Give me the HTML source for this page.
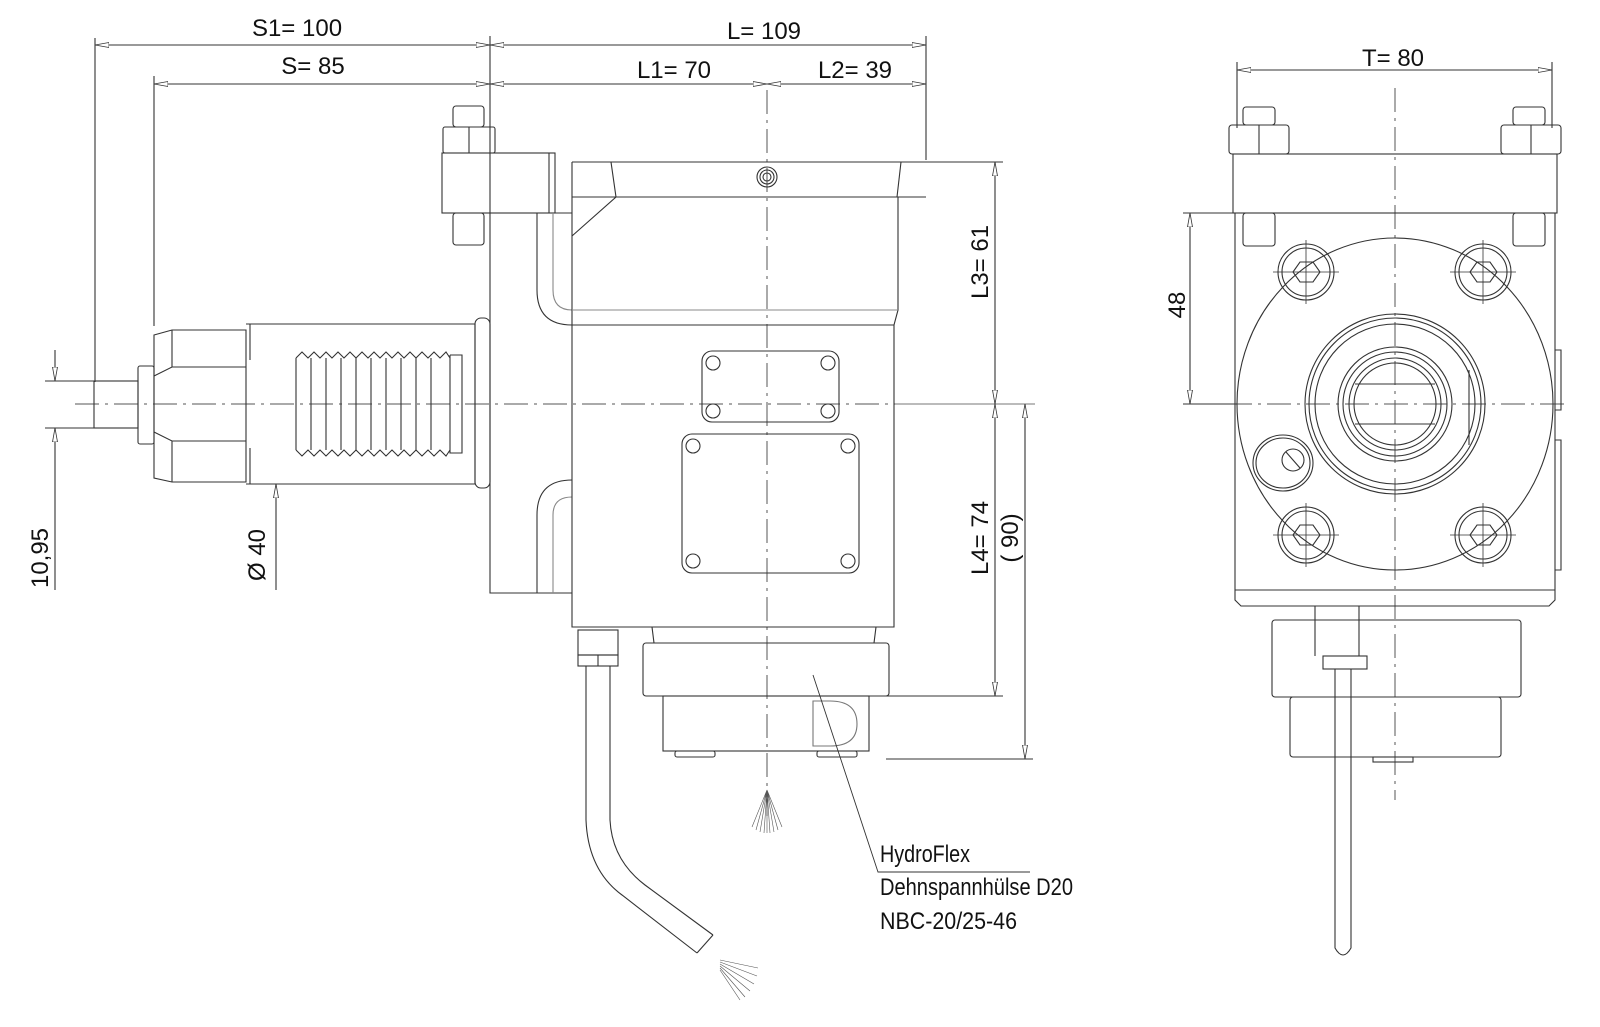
<!DOCTYPE html>
<html><head><meta charset="utf-8"><style>
html,body{margin:0;padding:0;background:#fff;}
svg{display:block;}
text{font-family:"Liberation Sans",sans-serif;font-size:24px;fill:#111;}
</style></head><body>
<svg width="1600" height="1027" viewBox="0 0 1600 1027" xmlns="http://www.w3.org/2000/svg">
<defs>
<marker id="a" viewBox="0 0 14 6" refX="14" refY="3" markerWidth="14" markerHeight="6" orient="auto-start-reverse" markerUnits="userSpaceOnUse"><path d="M0,0.5 L14,3 L0,5.5 Z" fill="#fff" stroke="#333" stroke-width="0.8"/></marker>
</defs>
<g fill="none" stroke="#333" stroke-width="1.1">
<!-- centerlines -->
<g stroke="#555" stroke-width="1" stroke-dasharray="24,6,3,6">
<line x1="75" y1="404" x2="1035" y2="404"/>
<line x1="767" y1="90" x2="767" y2="820"/>
</g>

<!-- dimensions top -->
<line x1="95" y1="45" x2="490" y2="45" marker-start="url(#a)" marker-end="url(#a)"/>
<line x1="490" y1="45" x2="926" y2="45" marker-start="url(#a)" marker-end="url(#a)"/>
<line x1="154" y1="84" x2="490" y2="84" marker-start="url(#a)" marker-end="url(#a)"/>
<line x1="490" y1="84" x2="767" y2="84" marker-start="url(#a)" marker-end="url(#a)"/>
<line x1="767" y1="84" x2="926" y2="84" marker-start="url(#a)" marker-end="url(#a)"/>
<line x1="95" y1="38" x2="95" y2="382"/>
<line x1="154" y1="76" x2="154" y2="326"/>
<line x1="490" y1="36" x2="490" y2="213"/>
<line x1="926" y1="36" x2="926" y2="160"/>

<!-- right side dims main -->
<line x1="902" y1="162" x2="1003" y2="162"/>
<line x1="895" y1="404" x2="1035" y2="404" stroke="#777"/>
<line x1="880" y1="696" x2="1003" y2="696"/>
<line x1="886" y1="759" x2="1033" y2="759"/>
<line x1="995" y1="162" x2="995" y2="404" marker-start="url(#a)" marker-end="url(#a)"/>
<line x1="995" y1="404" x2="995" y2="696" marker-start="url(#a)" marker-end="url(#a)"/>
<line x1="1025" y1="404" x2="1025" y2="759" marker-start="url(#a)" marker-end="url(#a)"/>

<!-- left dims -->
<line x1="45" y1="381" x2="94" y2="381"/>
<line x1="45" y1="428" x2="94" y2="428"/>
<line x1="55" y1="350" x2="55" y2="381" marker-end="url(#a)"/>
<line x1="55" y1="590" x2="55" y2="428" marker-end="url(#a)"/>
<line x1="276" y1="590" x2="276" y2="484" marker-end="url(#a)"/>

<!-- tool shank -->
<rect x="94" y="381" width="44" height="47"/>
<rect x="138" y="366" width="16" height="78" rx="2"/>
<path d="M154,335 L172,330 L246,330 L246,482 L172,482 L154,478 Z"/>
<path d="M154,376 L172,367 L246,367 M154,432 L172,441 L246,441 M172,330 L172,367 M172,441 L172,482"/>
<path d="M246,324 L475,324 L475,484 L246,484"/>
<path d="M250,324 L250,360 M250,448 L250,484"/>
<path d="M296,358 L296,450 M296,358 L302,352 L308,358 L314,352 L320,358 L326,352 L332,358 L338,352 L344,358 L350,352 L356,358 L362,352 L368,358 L374,352 L380,358 L386,352 L392,358 L398,352 L404,358 L410,352 L416,358 L422,352 L428,358 L434,352 L440,358 L446,352 L450,358"/>
<path d="M296,450 L302,456 L308,450 L314,456 L320,450 L326,456 L332,450 L338,456 L344,450 L350,456 L356,450 L362,456 L368,450 L374,456 L380,450 L386,456 L392,450 L398,456 L404,450 L410,456 L416,450 L422,456 L428,450 L434,456 L440,450 L446,456 L450,450"/>
<path d="M311,358V450 M326,358V450 M341,358V450 M356,358V450 M371,358V450 M386,358V450 M401,358V450 M416,358V450 M431,358V450 M450,355V453 L462,453 L462,355 L450,355"/>
<rect x="475" y="318" width="15" height="170" rx="6"/>

<!-- plate & clamp -->
<path d="M490,213 L490,593 L572,593"/>
<path d="M490,213 L572,213"/>
<rect x="442" y="153" width="113" height="60"/>
<line x1="549" y1="153" x2="549" y2="213"/>
<rect x="443" y="127" width="52" height="26" rx="2"/>
<line x1="469" y1="127" x2="469" y2="153"/>
<rect x="453" y="106" width="31" height="21" rx="3"/>
<rect x="453" y="213" width="31" height="32" rx="3"/>
<!-- pipes -->
<path d="M537,213 L537,290 Q537,325 572,325"/>
<path d="M553,213 L553,290 Q553,310 572,310" stroke="#888"/>
<path d="M537,593 L537,515 Q537,480 572,480"/>
<path d="M553,593 L553,515 Q553,497 572,497" stroke="#888"/>

<!-- main body -->
<path d="M572,162 L926,162 M572,162 L572,627 L894,627 L894,325 L898,310 L898,197"/>
<path d="M611,162 L616,197 L572,236"/>
<path d="M901,162 L897,197"/>
<line x1="572" y1="197" x2="926" y2="197"/>
<line x1="572" y1="310" x2="898" y2="310" stroke="#888"/>
<line x1="572" y1="325" x2="894" y2="325"/>
<circle cx="767" cy="177" r="10"/><circle cx="767" cy="177" r="7"/><circle cx="767" cy="177" r="4"/>
<rect x="702" y="351" width="137" height="71" rx="10"/>
<circle cx="713" cy="363" r="7"/><circle cx="828" cy="363" r="7"/><circle cx="713" cy="411" r="7"/><circle cx="828" cy="411" r="7"/>
<rect x="682" y="434" width="177" height="139" rx="10"/>
<circle cx="693" cy="446" r="7"/><circle cx="848" cy="446" r="7"/><circle cx="693" cy="561" r="7"/><circle cx="848" cy="561" r="7"/>

<!-- lower part -->
<path d="M652,627 L654,643 M876,627 L874,643"/>
<rect x="643" y="643" width="246" height="53" rx="3"/>
<rect x="663" y="696" width="206" height="55"/>
<path d="M813,701 L830,701 Q857,701 857,724 Q857,746 830,746 L813,746 Z" stroke="#777"/>
<rect x="675" y="751" width="40" height="6" rx="2"/>
<rect x="817" y="751" width="40" height="6" rx="2"/>
<!-- cable -->
<rect x="578" y="630" width="40" height="25"/>
<rect x="578" y="655" width="40" height="11"/>
<line x1="598" y1="655" x2="598" y2="666"/>
<path d="M586,666 L586,820 Q588,870 622,895 L697,953"/>
<path d="M610,666 L610,820 Q612,860 645,885 L713,935"/>
<line x1="697" y1="953" x2="713" y2="935"/>
<!-- leader -->
<path d="M813,675 L878,872 L1030,872" stroke-width="0.9"/>
<!-- sprays -->
<g stroke-width="0.6" stroke="#555">
<path d="M767,790 L752,827 M767,790 L756,830 M767,790 L760,832 M767,790 L764,833 M767,790 L767,833 M767,790 L770,833 M767,790 L774,832 M767,790 L778,830 M767,790 L782,827"/>
<path d="M720,960 L758,968 M720,962 L757,976 M720,964 L754,984 M720,966 L750,991 M720,968 L745,997 M720,970 L740,1000"/>
</g>

<!-- RIGHT VIEW -->
<g transform="translate(-7,0)">
<g stroke="#555" stroke-width="1" stroke-dasharray="24,6,3,6">
<line x1="1402" y1="88" x2="1402" y2="800"/>
<line x1="1235" y1="404" x2="1575" y2="404"/>
</g>
<line x1="1244" y1="70" x2="1559" y2="70" marker-start="url(#a)" marker-end="url(#a)"/>
<line x1="1244" y1="62" x2="1244" y2="128"/>
<line x1="1559" y1="62" x2="1559" y2="128"/>
<line x1="1190" y1="213" x2="1244" y2="213"/>
<line x1="1190" y1="404" x2="1244" y2="404"/>
<line x1="1197" y1="213" x2="1197" y2="404" marker-start="url(#a)" marker-end="url(#a)"/>
<rect x="1236" y="125" width="60" height="29" rx="3"/>
<rect x="1508" y="125" width="60" height="29" rx="3"/>
<line x1="1266" y1="125" x2="1266" y2="154"/><line x1="1538" y1="125" x2="1538" y2="154"/>
<rect x="1250" y="107" width="32" height="18" rx="3"/>
<rect x="1520" y="107" width="32" height="18" rx="3"/>
<rect x="1250" y="213" width="32" height="33" rx="3"/>
<rect x="1520" y="213" width="32" height="33" rx="3"/>
<rect x="1240" y="154" width="324" height="59"/>
<path d="M1242,213 L1242,600 L1248,606 L1556,606 L1562,600 L1562,213"/>
<line x1="1242" y1="590" x2="1562" y2="590"/>
<ellipse cx="1402" cy="404" rx="158" ry="166"/>
<g>
<circle cx="1313" cy="272" r="28"/><circle cx="1313" cy="272" r="24"/>
<circle cx="1490" cy="272" r="28"/><circle cx="1490" cy="272" r="24"/>
<circle cx="1313" cy="535" r="28"/><circle cx="1313" cy="535" r="24"/>
<circle cx="1490" cy="535" r="28"/><circle cx="1490" cy="535" r="24"/>
<polygon points="1300,272 1307,262 1320,262 1327,272 1320,282 1307,282"/>
<polygon points="1477,272 1484,262 1497,262 1504,272 1497,282 1484,282"/>
<polygon points="1300,535 1307,525 1320,525 1327,535 1320,545 1307,545"/>
<polygon points="1477,535 1484,525 1497,525 1504,535 1497,545 1484,545"/>
<path d="M1280,272h66 M1313,240v64 M1457,272h66 M1490,240v64 M1280,535h66 M1313,503v64 M1457,535h66 M1490,503v64" stroke-width="0.8"/>
</g>
<circle cx="1402" cy="404" r="90"/><circle cx="1402" cy="404" r="86"/><circle cx="1402" cy="404" r="80"/>
<circle cx="1402" cy="404" r="57"/><circle cx="1402" cy="404" r="52"/><circle cx="1402" cy="404" r="46"/><circle cx="1402" cy="404" r="41"/>
<line x1="1362" y1="384" x2="1442" y2="384"/><line x1="1362" y1="424" x2="1442" y2="424"/>
<line x1="1476" y1="370" x2="1476" y2="445"/>
<ellipse cx="1290" cy="463" rx="30" ry="28"/><ellipse cx="1290" cy="463" rx="27" ry="25"/>
<circle cx="1300" cy="460" r="11"/><line x1="1293" y1="452" x2="1307" y2="468"/>
<path d="M1562,350 h6 v60 h-6 M1562,440 h6 v130 h-6"/>
<rect x="1279" y="620" width="249" height="77" rx="3"/>
<rect x="1297" y="697" width="211" height="60" rx="3"/>
<rect x="1380" y="757" width="40" height="5"/>
<path d="M1322,606 v50 M1366,606 v50"/>
<rect x="1330" y="656" width="44" height="13"/>
<path d="M1342,669 L1342,948 Q1350,962 1358,948 L1358,669"/>
</g>
</g>

<!-- texts -->
<text x="297" y="36" text-anchor="middle">S1= 100</text>
<text x="764" y="39" text-anchor="middle">L= 109</text>
<text x="313" y="74" text-anchor="middle">S= 85</text>
<text x="674" y="78" text-anchor="middle">L1= 70</text>
<text x="855" y="78" text-anchor="middle">L2= 39</text>
<text x="1393" y="66" text-anchor="middle">T= 80</text>
<text transform="translate(988,262) rotate(-90)" text-anchor="middle">L3= 61</text>
<text transform="translate(988,538) rotate(-90)" text-anchor="middle">L4= 74</text>
<text transform="translate(1018,538) rotate(-90)" text-anchor="middle">( 90)</text>
<text transform="translate(48,558) rotate(-90)" text-anchor="middle">10,95</text>
<text transform="translate(265,555) rotate(-90)" text-anchor="middle">Ø 40</text>
<text transform="translate(1185,305) rotate(-90)" text-anchor="middle">48</text>
<text x="880" y="862" textLength="90" lengthAdjust="spacingAndGlyphs">HydroFlex</text>
<text x="880" y="895" textLength="193" lengthAdjust="spacingAndGlyphs">Dehnspannhülse D20</text>
<text x="880" y="929" textLength="137" lengthAdjust="spacingAndGlyphs">NBC-20/25-46</text>
</svg>
</body></html>
